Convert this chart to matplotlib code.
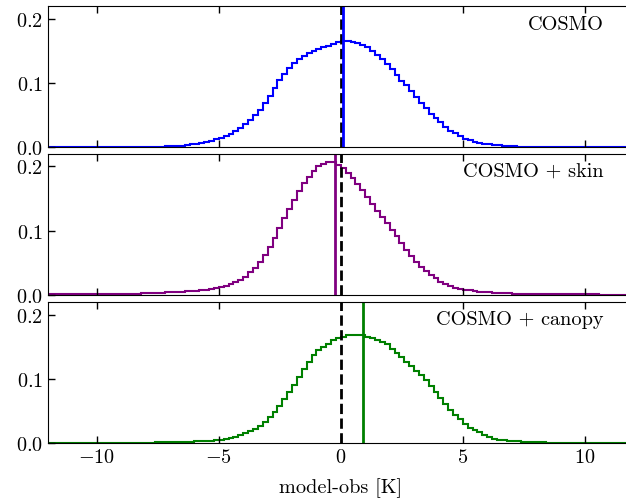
import numpy as np
import matplotlib.pyplot as plt

plt.rcParams['font.family'] = 'cmr10'
plt.rcParams['mathtext.fontset'] = 'cm'
plt.rcParams['axes.formatter.use_mathtext'] = True
plt.rcParams['font.size'] = 14.6

# bin edges of the model-obs histograms (K)
edges = np.linspace(-12, 12, 121)

# normalised frequencies per 0.2 K bin
cosmo = [
    0.0001, 0.0001, 0.0001, 0.0001, 0.0001, 0.0002, 0.0002, 0.0002, 0.0002, 0.0003,
    0.0003, 0.0003, 0.0004, 0.0004, 0.0005, 0.0005, 0.0006, 0.0007, 0.0008, 0.0009,
    0.0010, 0.0012, 0.0013, 0.0015, 0.0017, 0.0020, 0.0025, 0.0031, 0.0040, 0.0048,
    0.0056, 0.0066, 0.0080, 0.0098, 0.0125, 0.0150, 0.0180, 0.0215, 0.0255, 0.030,
    0.036, 0.043, 0.050, 0.059, 0.070, 0.081, 0.093, 0.105, 0.115, 0.124,
    0.132, 0.138, 0.143, 0.147, 0.151, 0.154, 0.156, 0.159, 0.162, 0.164,
    0.166, 0.166, 0.165, 0.163, 0.160, 0.156, 0.151, 0.145, 0.138, 0.130,
    0.122, 0.113, 0.104, 0.097, 0.088, 0.078, 0.069, 0.061, 0.053, 0.046,
    0.039, 0.032, 0.026, 0.022, 0.018, 0.014, 0.011, 0.009, 0.007, 0.0058,
    0.0050, 0.0042, 0.0035, 0.0029, 0.0024, 0.0019, 0.0015, 0.0012, 0.0010, 0.0008,
    0.0007, 0.0006, 0.0005, 0.0004, 0.0004, 0.0003, 0.0003, 0.0002, 0.0002, 0.0002,
    0.0002, 0.0001, 0.0001, 0.0001, 0.0001, 0.0001, 0.0001, 0.0001, 0.0001, 0.0001,
]
skin = [
    0.0003, 0.0003, 0.0003, 0.0004, 0.0004, 0.0004, 0.0005, 0.0005, 0.0006, 0.0006,
    0.0007, 0.0008, 0.0009, 0.0010, 0.0011, 0.0012, 0.0014, 0.0016, 0.0018, 0.0020,
    0.0023, 0.0026, 0.0029, 0.0032, 0.0036, 0.0040, 0.0044, 0.0048, 0.0053, 0.0058,
    0.0064, 0.0071, 0.0080, 0.0090, 0.0105, 0.0120, 0.0140, 0.0165, 0.0195, 0.0230,
    0.028, 0.035, 0.042, 0.051, 0.062, 0.075, 0.089, 0.104, 0.119, 0.133,
    0.148, 0.162, 0.174, 0.184, 0.193, 0.200, 0.204, 0.207, 0.207, 0.203,
    0.198, 0.190, 0.182, 0.172, 0.163, 0.153, 0.142, 0.131, 0.121, 0.112,
    0.101, 0.091, 0.080, 0.070, 0.060, 0.051, 0.043, 0.037, 0.031, 0.026,
    0.020, 0.0165, 0.0135, 0.011, 0.0092, 0.0078, 0.0066, 0.0056, 0.0048, 0.0041,
    0.0035, 0.0030, 0.0026, 0.0022, 0.0019, 0.0016, 0.0014, 0.0012, 0.0011, 0.0010,
    0.0009, 0.0008, 0.0007, 0.0006, 0.0006, 0.0005, 0.0005, 0.0004, 0.0004, 0.0004,
    0.0003, 0.0003, 0.0003, 0.0002, 0.0002, 0.0002, 0.0002, 0.0002, 0.0001, 0.0001,
]
canopy = [
    0.0001, 0.0001, 0.0001, 0.0001, 0.0001, 0.0001, 0.0001, 0.0001, 0.0001, 0.0002,
    0.0002, 0.0002, 0.0002, 0.0003, 0.0003, 0.0003, 0.0004, 0.0004, 0.0005, 0.0006,
    0.0007, 0.0008, 0.0009, 0.0010, 0.0011, 0.0013, 0.0015, 0.0017, 0.0019, 0.0021,
    0.0024, 0.0028, 0.0032, 0.0038, 0.0045, 0.0054, 0.0065, 0.0080, 0.0098, 0.0120,
    0.0150, 0.0185, 0.0225, 0.027, 0.033, 0.040, 0.048, 0.058, 0.068, 0.079,
    0.091, 0.103, 0.115, 0.127, 0.138, 0.145, 0.150, 0.155, 0.160, 0.164,
    0.166, 0.168, 0.169, 0.169, 0.168, 0.166, 0.164, 0.161, 0.158, 0.154,
    0.147, 0.140, 0.134, 0.127, 0.120, 0.113, 0.106, 0.099, 0.089, 0.080,
    0.070, 0.061, 0.052, 0.044, 0.037, 0.030, 0.024, 0.020, 0.017, 0.013,
    0.009, 0.007, 0.005, 0.0042, 0.0035, 0.0029, 0.0024, 0.0020, 0.0016, 0.0013,
    0.0011, 0.0009, 0.0008, 0.0007, 0.0006, 0.0005, 0.0004, 0.0004, 0.0003, 0.0003,
    0.0003, 0.0002, 0.0002, 0.0002, 0.0002, 0.0001, 0.0001, 0.0001, 0.0001, 0.0001,
]

labels = ['COSMO', 'COSMO + skin', 'COSMO + canopy']
colors = ['blue', 'purple', 'green']
means = [0.07, -0.25, 0.89]
series = [cosmo, skin, canopy]

fig = plt.figure(figsize=(6.26, 5.02), dpi=100)
bottoms = [0.7042, 0.4110, 0.1155]

for i in range(3):
    ax = fig.add_axes([0.0767, bottoms[i], 0.9355, 0.281])
    ax.axvline(0, color='k', ls='--', lw=2)
    ax.stairs(series[i], edges, color=colors[i], lw=1.5)
    ax.axvline(means[i], color=colors[i], lw=2)
    ax.set_xlim(-12, 12)
    ax.set_ylim(0, 0.22)
    ax.set_xticks([-10, -5, 0, 5, 10])
    ax.set_yticks([0, 0.1, 0.2])
    ax.tick_params(direction='in', top=True, right=True, length=5, width=1)
    ax.text(0.949, 0.842, labels[i], transform=ax.transAxes,
            ha='right', va='baseline')
    if i < 2:
        ax.tick_params(labelbottom=False)
    else:
        ax.set_xlabel('model-obs [K]', labelpad=8)

fig.savefig('out.png', dpi=100)
